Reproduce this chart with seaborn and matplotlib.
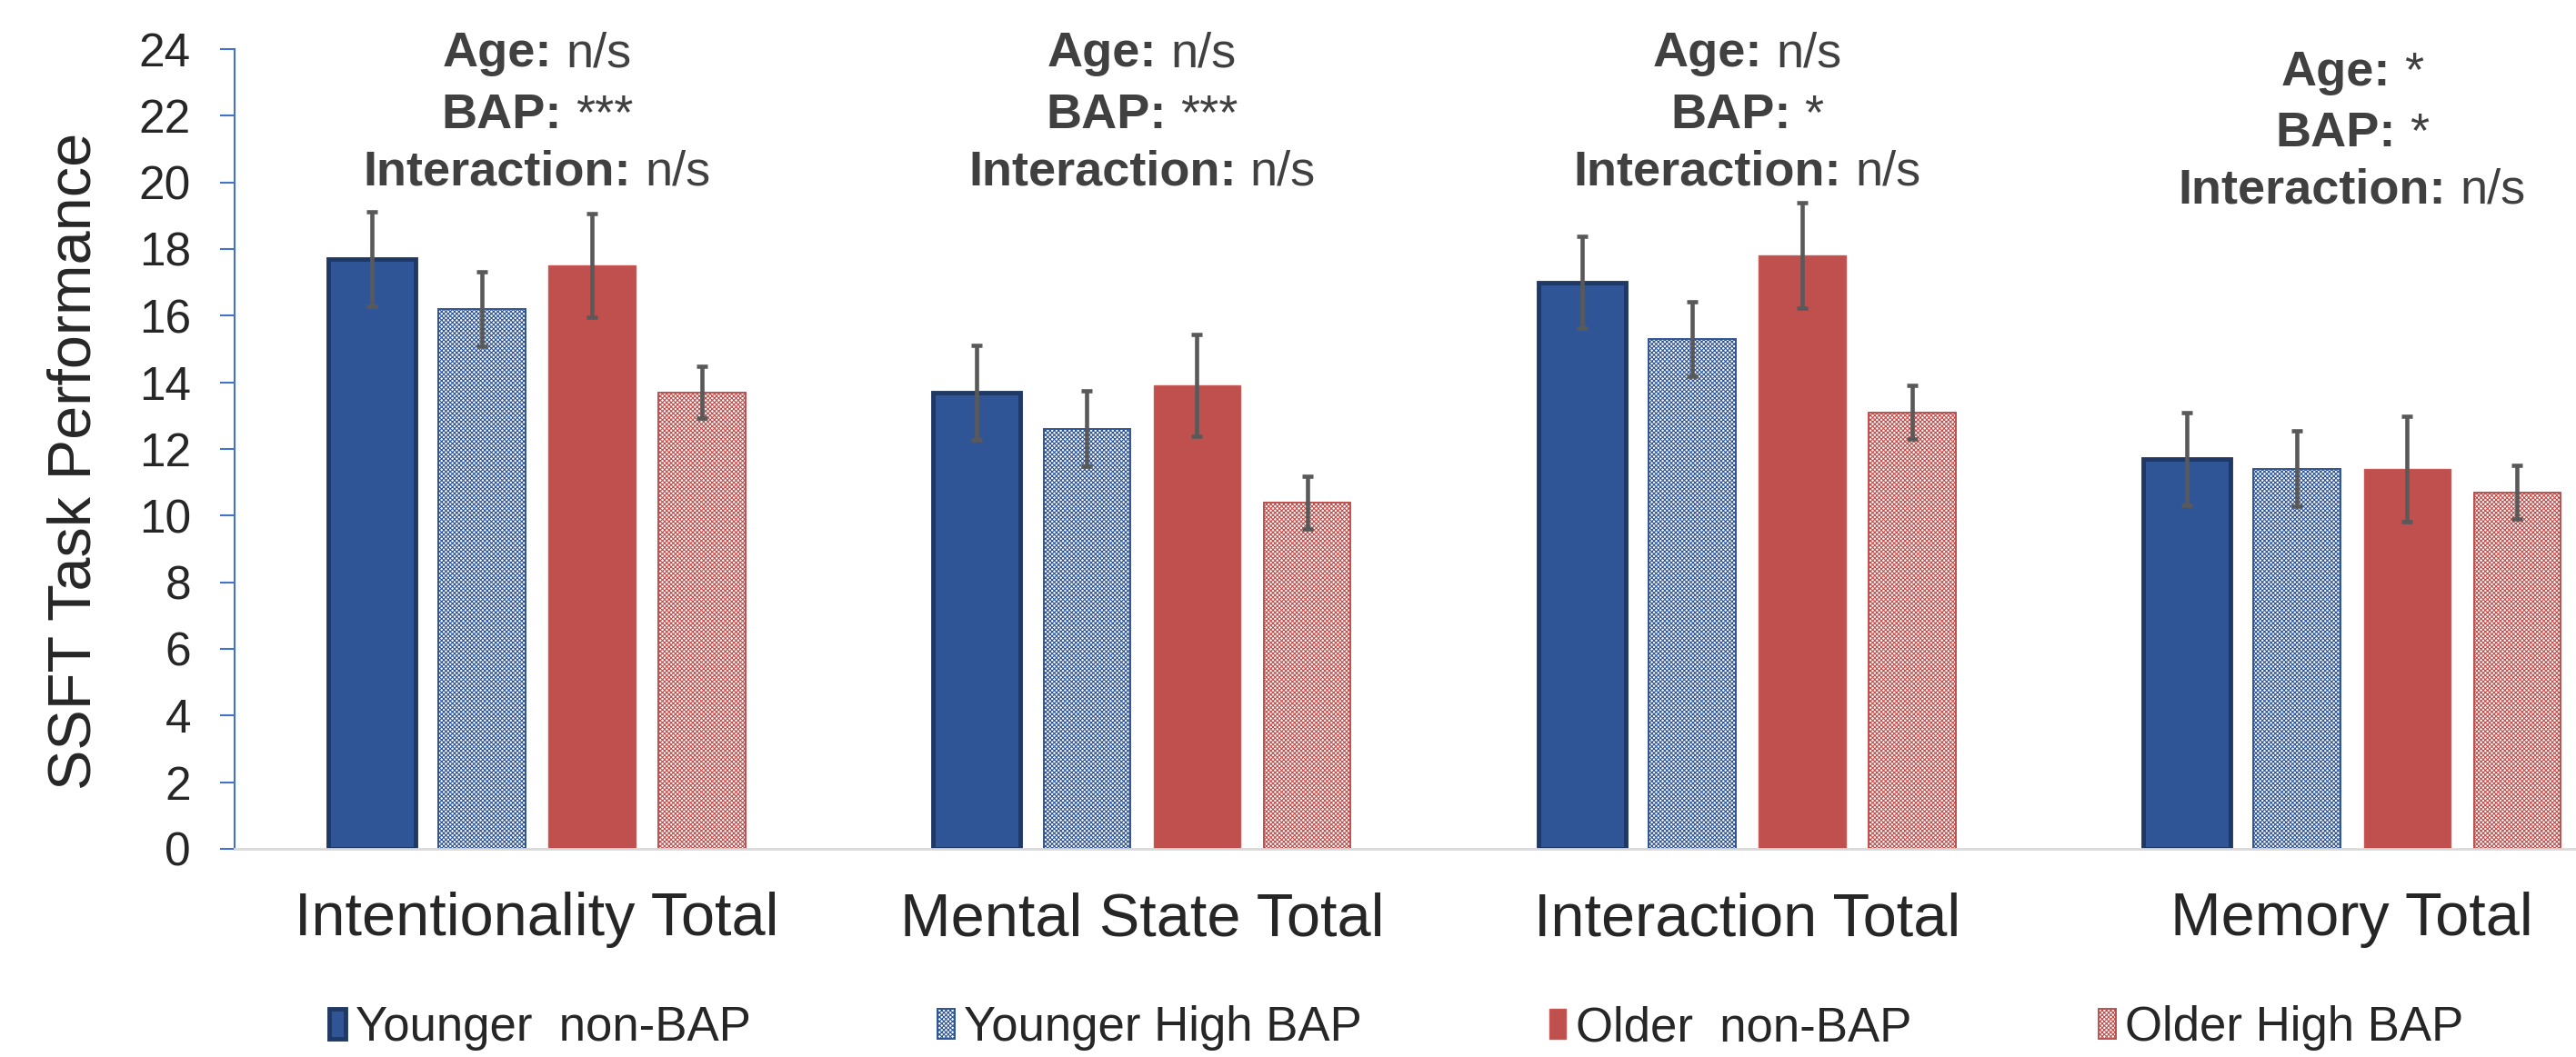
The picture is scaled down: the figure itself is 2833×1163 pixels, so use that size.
import matplotlib
matplotlib.use("Agg")
import matplotlib.pyplot as plt
from matplotlib.transforms import offset_copy
import seaborn as sns
import pandas as pd

# data (means and error half-widths)
measures = ["Intentionality Total", "Mental State Total", "Interaction Total", "Memory Total"]
groups = ["Younger non-BAP", "Younger High BAP", "Older non-BAP", "Older High BAP"]

younger_non = [17.7, 13.7, 17.0, 11.7]
younger_high = [16.2, 12.6, 15.3, 11.4]
older_non = [17.5, 13.9, 17.8, 11.4]
older_high = [13.7, 10.4, 13.1, 10.7]

err_younger_non = [1.42, 1.42, 1.38, 1.38]
err_younger_high = [1.13, 1.13, 1.13, 1.13]
err_older_non = [1.56, 1.53, 1.58, 1.58]
err_older_high = [0.78, 0.79, 0.8, 0.8]

age_sig = ["n/s", "n/s", "n/s", "*"]
bap_sig = ["***", "***", "*", "*"]
inter_sig = ["n/s", "n/s", "n/s", "n/s"]

means = [younger_non, younger_high, older_non, older_high]
errs = [err_younger_non, err_younger_high, err_older_non, err_older_high]

rows = []
for g, vals in zip(groups, means):
    for m, v in zip(measures, vals):
        rows.append({"measure": m, "group": g, "score": v})
df = pd.DataFrame(rows)

sns.set_style("white")
plt.rcParams['font.family'] = ['Liberation Sans', 'DejaVu Sans']
plt.rcParams['hatch.linewidth'] = 0.8

fig = plt.figure(figsize=(28.33, 11.63), dpi=100)
ax = fig.add_axes([0.091, 0.197, 0.909, 0.7566])

blue = "#2F5597"
navy = "#1F3864"
red = "#C0504D"

sns.barplot(data=df, x="measure", y="score", hue="group", order=measures,
            hue_order=groups, errorbar=None, width=0.728, gap=0.21,
            palette=[blue, "white", red, "white"], ax=ax, legend=False)

styles = [
    dict(facecolor=blue, edgecolor=navy, linewidth=3.5, hatch=None),
    dict(facecolor="white", edgecolor=blue, linewidth=1.4, hatch="xxxxxxx"),
    dict(facecolor=red, edgecolor="#C55A57", linewidth=1.0, hatch=None),
    dict(facecolor="white", edgecolor=red, linewidth=1.4, hatch="xxxxxxx"),
]

bar_conts = list(ax.containers)
for cont, st, e in zip(bar_conts, styles, errs):
    for bar in cont:
        bar.set_facecolor(st["facecolor"])
        bar.set_edgecolor(st["edgecolor"])
        bar.set_linewidth(st["linewidth"])
        if st["hatch"]:
            bar.set_hatch(st["hatch"])
    xs = [b.get_x() + b.get_width() / 2 for b in cont]
    ys = [b.get_height() for b in cont]
    ax.errorbar(xs, ys, yerr=e, fmt="none", ecolor="#595959", elinewidth=3.3,
                capsize=4, capthick=3.3, zorder=5)

# significance notes above each group: bold label + plain value, centred together
renderer = fig.canvas.get_renderer()
note_color = "#404040"
gap_px = 15


def note(x, y, label, value):
    t1 = ax.text(x, y, label, ha="left", va="center", fontsize=39, fontweight="bold",
                 color=note_color, clip_on=False)
    t2 = ax.text(x, y, value, ha="left", va="center", fontsize=39,
                 color=note_color, clip_on=False)
    w1 = t1.get_window_extent(renderer).width
    w2 = t2.get_window_extent(renderer).width
    total = w1 + gap_px + w2
    t1.set_transform(offset_copy(ax.transData, fig=fig, x=-total / 2, units="dots"))
    t2.set_transform(offset_copy(ax.transData, fig=fig, x=-total / 2 + w1 + gap_px, units="dots"))


for i in range(len(measures)):
    top = 23.85 if i < 3 else 23.3
    note(i, top, "Age:", age_sig[i])
    note(i, top - 1.85, "BAP:", bap_sig[i])
    note(i, top - 3.55, "Interaction:", inter_sig[i])

ax.set_ylim(0, 24)
ax.set_xlim(-0.5, 3.37)
ax.set_yticks(range(0, 25, 2))
ax.set_xlabel("")
ax.set_ylabel("SSFT Task Performance", fontsize=48)
ax.yaxis.set_label_coords(-0.056, 0.485)

for s in ["top", "right"]:
    ax.spines[s].set_visible(False)
ax.spines["left"].set_color("#4472C4")
ax.spines["left"].set_linewidth(1.5)
ax.spines["bottom"].set_color("#D9D9D9")
ax.spines["bottom"].set_linewidth(2)

ax.tick_params(axis="y", which="major", length=11.5, width=1.5, color="#4472C4",
               labelsize=37, pad=23, left=True, direction="out")
ax.tick_params(axis="x", length=0, labelsize=48, pad=34)

handles = [c.patches[0] for c in bar_conts]
legend_labels = [g.replace(" non-", "  non-") for g in groups]
fig.legend(handles, legend_labels, loc="center", bbox_to_anchor=(0.542, 0.0275), ncol=4,
           frameon=False, fontsize=38, handlelength=0.35, handleheight=0.6,
           handletextpad=0.2, columnspacing=3.9)

fig.savefig("out.png", dpi=100)
